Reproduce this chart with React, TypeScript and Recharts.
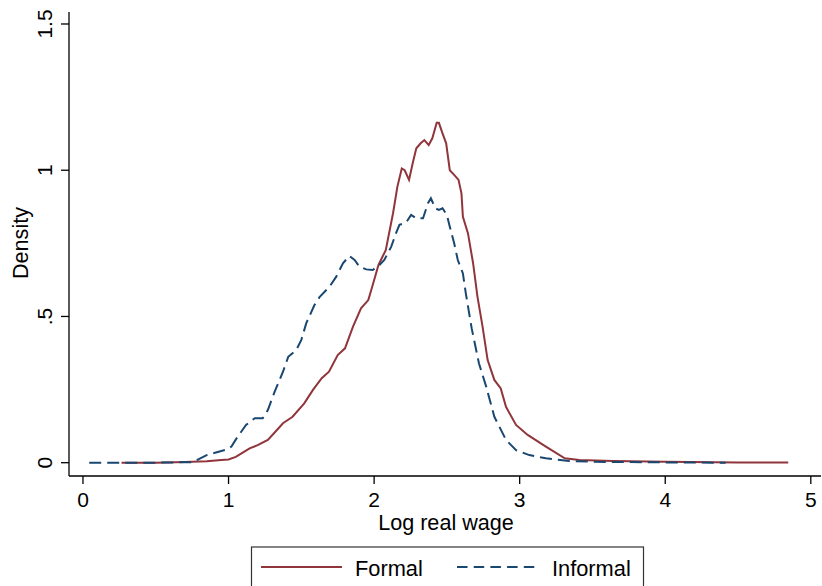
import React from 'react';
import { LineChart, Line, XAxis, YAxis } from 'recharts';

const xTicks = [0, 1, 2, 3, 4, 5];
const yTicks = [0, 0.5, 1, 1.5];
const yTickLabels = ['0', '.5', '1', '1.5'];

const formalX = [0.265, 0.5, 0.7, 0.85, 0.95, 1.0, 1.05, 1.1, 1.145, 1.2, 1.27, 1.32, 1.374, 1.44, 1.52, 1.58, 1.64, 1.69, 1.75, 1.8, 1.855, 1.91, 1.96, 1.99, 2.03, 2.08, 2.13, 2.16, 2.19, 2.21, 2.24, 2.265, 2.29, 2.32, 2.345, 2.375, 2.4, 2.43, 2.445, 2.47, 2.495, 2.52, 2.55, 2.58, 2.6, 2.61, 2.645, 2.68, 2.71, 2.745, 2.78, 2.826, 2.87, 2.906, 2.975, 3.055, 3.18, 3.31, 3.41, 3.64, 4.0, 4.5, 4.845];
const formalY = [0, 0, 0.002, 0.005, 0.009, 0.011, 0.02, 0.035, 0.049, 0.06, 0.078, 0.105, 0.135, 0.157, 0.203, 0.249, 0.289, 0.311, 0.368, 0.391, 0.465, 0.528, 0.556, 0.607, 0.676, 0.727, 0.853, 0.944, 1.006, 1.0, 0.967, 1.024, 1.075, 1.092, 1.103, 1.086, 1.109, 1.162, 1.162, 1.126, 1.092, 1.0, 0.984, 0.967, 0.921, 0.841, 0.784, 0.682, 0.568, 0.465, 0.351, 0.283, 0.254, 0.191, 0.129, 0.095, 0.055, 0.015, 0.009, 0.006, 0.003, 0.001, 0.001];

const informalX = [0.043, 0.5, 0.755, 0.85, 0.985, 1.02, 1.055, 1.12, 1.18, 1.235, 1.27, 1.317, 1.374, 1.41, 1.465, 1.5, 1.534, 1.59, 1.625, 1.694, 1.74, 1.786, 1.83, 1.866, 1.9, 1.946, 1.99, 2.037, 2.07, 2.117, 2.15, 2.174, 2.22, 2.254, 2.29, 2.336, 2.37, 2.39, 2.42, 2.445, 2.47, 2.5, 2.52, 2.55, 2.575, 2.61, 2.63, 2.67, 2.72, 2.77, 2.826, 2.906, 2.975, 3.066, 3.18, 3.34, 3.52, 4.0, 4.415];
const informalY = [0, 0, 0.002, 0.026, 0.045, 0.055, 0.083, 0.129, 0.152, 0.152, 0.18, 0.243, 0.311, 0.362, 0.385, 0.42, 0.477, 0.539, 0.566, 0.602, 0.636, 0.682, 0.707, 0.693, 0.67, 0.661, 0.659, 0.676, 0.693, 0.738, 0.784, 0.813, 0.821, 0.847, 0.835, 0.836, 0.887, 0.904, 0.87, 0.864, 0.87, 0.847, 0.807, 0.75, 0.693, 0.647, 0.579, 0.46, 0.34, 0.26, 0.157, 0.078, 0.043, 0.026, 0.015, 0.006, 0.003, 0.001, 0];

const formalData = formalX.map((x, i) => ({ x, y: formalY[i] }));
const informalData = informalX.map((x, i) => ({ x, y: informalY[i] }));

const FONT = '"Liberation Sans", Arial, Helvetica, sans-serif';
const MAROON = '#90353B';
const NAVY = '#1A476F';

const XTick = (props: any) => {
  const { x, payload } = props;
  return (
    <text x={x} y={507} textAnchor="middle" fontFamily={FONT} fontSize={21} fill="#000">
      {String(payload.value)}
    </text>
  );
};

const YTick = (props: any) => {
  const { y, payload } = props;
  const idx = yTicks.indexOf(payload.value);
  const label = idx >= 0 ? yTickLabels[idx] : String(payload.value);
  const bx = 52;
  return (
    <text x={bx} y={y} transform={`rotate(-90, ${bx}, ${y})`} textAnchor="middle" fontFamily={FONT} fontSize={21} fill="#000">
      {label}
    </text>
  );
};

export default function App() {
  return (
    <div style={{ position: 'absolute', left: 0, top: 0, width: 822, height: 586, background: '#fff', overflow: 'hidden' }}>
      <LineChart width={822} height={586} margin={{ top: 12, right: 1, left: 0, bottom: 0 }}>
        <XAxis
          type="number"
          dataKey="x"
          domain={[-0.096, 5.07]}
          ticks={xTicks}
          allowDataOverflow
          height={110}
          tick={<XTick />}
          tickSize={8}
          axisLine={{ stroke: '#000', strokeWidth: 1.3 }}
          tickLine={{ stroke: '#000', strokeWidth: 1.3 }}
        />
        <YAxis
          type="number"
          dataKey="y"
          domain={[-0.0455, 1.541]}
          ticks={yTicks}
          allowDataOverflow
          width={69}
          tick={<YTick />}
          tickSize={8}
          axisLine={{ stroke: '#000', strokeWidth: 1.3 }}
          tickLine={{ stroke: '#000', strokeWidth: 1.3 }}
        />
        <Line data={formalData} dataKey="y" type="linear" stroke={MAROON} strokeWidth={2} dot={false} isAnimationActive={false} />
        <Line data={informalData} dataKey="y" type="linear" stroke={NAVY} strokeWidth={2} strokeDasharray="12 6" dot={false} isAnimationActive={false} />
      </LineChart>
      <svg width={822} height={586} style={{ position: 'absolute', left: 0, top: 0, pointerEvents: 'none' }}>
        <text x={446} y={530} textAnchor="middle" fontFamily={FONT} fontSize={21.6} fill="#000">Log real wage</text>
        <text x={28} y={243} transform="rotate(-90, 28, 243)" textAnchor="middle" fontFamily={FONT} fontSize={21.6} fill="#000">Density</text>
        <rect x={251.5} y={547} width={392} height={50} fill="#fff" stroke="#333" strokeWidth={1.2} />
        <line x1={261} y1={567} x2={342} y2={567} stroke={MAROON} strokeWidth={2} />
        <text x={355} y={575.5} fontFamily={FONT} fontSize={21.8} fill="#000">Formal</text>
        <line x1={457} y1={567} x2={538} y2={567} stroke={NAVY} strokeWidth={2} strokeDasharray="10.5 6.2" />
        <text x={552} y={575.5} fontFamily={FONT} fontSize={21.8} fill="#000">Informal</text>
      </svg>
    </div>
  );
}
